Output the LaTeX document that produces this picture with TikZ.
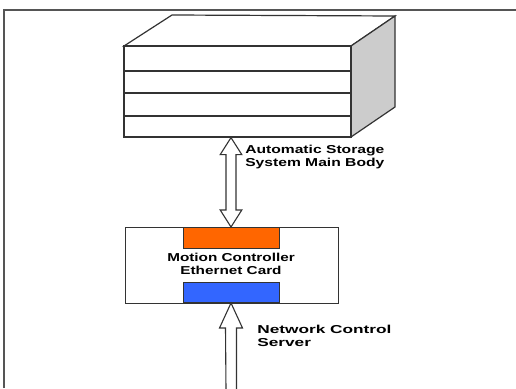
\documentclass[tikz,border=0pt]{standalone}
\usepackage{fontspec}
\setmainfont{Liberation Sans}
\usetikzlibrary{calc}
\definecolor{cardorange}{HTML}{FF6600}
\definecolor{cardblue}{HTML}{3366FF}
\definecolor{sidegray}{HTML}{CCCCCC}
\definecolor{framegray}{HTML}{555555}
\definecolor{linegray}{HTML}{333333}
\tikzset{
  frameline/.style={draw=framegray, line width=2pt},
  boxline/.style={draw=linegray, line width=1.2pt, line join=miter},
  card/.style={draw=linegray, line width=0.8pt, inner sep=0pt, minimum width=96pt, minimum height=20.5pt},
  hollowarrow/.style={draw=linegray, fill=white, line width=1.1pt, line join=miter},
  lbl/.style={font=\bfseries\fontsize{11.5}{13}\selectfont, align=left, inner sep=0pt, transform shape}
}
\begin{document}
\begin{tikzpicture}[x=1pt, y=-1pt]
\useasboundingbox (0,0) rectangle (516,388);
\fill[white] (0,0) rectangle (516,388);
% frame
\draw[frameline] (4,388) -- (4,10) -- (516,10);
% storage body: top and side faces
\draw[boxline, fill=white] (124,46) -- (172,15) -- (395,16) -- (351,46) -- cycle;
\draw[boxline, fill=sidegray] (351,46) -- (395,16) -- (395,107) -- (351,137) -- cycle;
\node[boxline, fill=white, minimum width=227pt, minimum height=91pt, inner sep=0pt] (body) at (237.5,91.5) {};
\draw[boxline] (body.north west |- 0,71) -- (body.north east |- 0,71);
\draw[boxline] (body.north west |- 0,93) -- (body.north east |- 0,93);
\draw[boxline] (body.north west |- 0,116) -- (body.north east |- 0,116);
% controller box
\node[boxline, line width=1pt, fill=white, minimum width=213pt, minimum height=76pt, inner sep=0pt] (ctrl) at (231.5,265) {};
\node[card, fill=cardorange, anchor=north] (orange) at (231,227) {};
\node[card, fill=cardblue, anchor=south] (blue) at (231,303) {};
\node[lbl, align=center, xscale=1.33] (ctext) at (231,263.5) {Motion Controller\\Ethernet Card};
% bottom free end
\coordinate (src) at (231.5,390);
% double arrow between body and card
\draw[hollowarrow] (body.south -| orange.north) -- ++(10.8,17) -- ++(-5.8,0) -- ($(orange.north)+(5,-17)$) -- ++(5.8,0) -- (orange.north) -- ++(-10.8,-17) -- ++(5.8,0) -- ($(body.south -| orange.north)+(-5,17)$) -- ++(-5.8,0) -- cycle;
% single arrow from network server
\draw[hollowarrow] (blue.south) -- ++(11.5,25) -- ++(-6,0) -- (src -| 236.5,0) -- (src -| 226,0) -- ($(blue.south)+(-5.5,25)$) -- ++(-6,0) -- cycle;
% labels
\node[lbl, anchor=west, xscale=1.36] (lab1) at (245,157) {Automatic Storage\\System Main Body};
\node[lbl, anchor=west, xscale=1.5] (lab2) at (257,336) {Network Control\\Server};
\end{tikzpicture}
\end{document}
